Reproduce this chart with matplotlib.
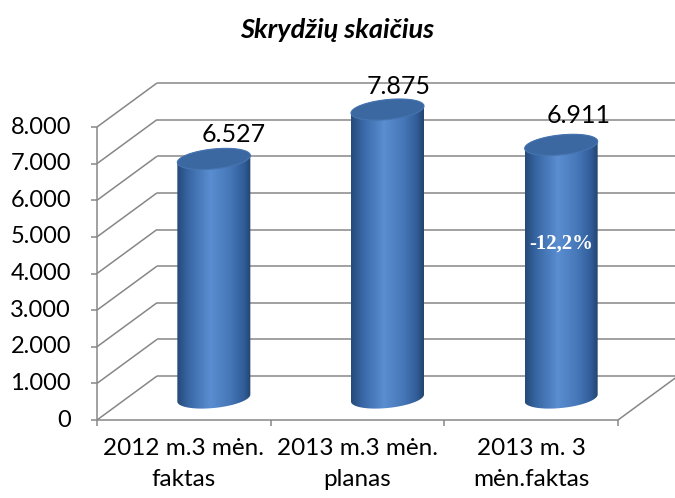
import numpy as np
import matplotlib
matplotlib.use("Agg")
import matplotlib.pyplot as plt
from matplotlib.patches import Polygon
from matplotlib.colors import LinearSegmentedColormap

# ---------------- data ----------------
categories = ["2012 m.3 mėn.\nfaktas", "2013 m.3 mėn.\nplanas", "2013 m. 3\nmėn.faktas"]
values = [6527, 7875, 6911]
value_labels = ["6.527", "7.875", "6.911"]
y_ticks = [0, 1000, 2000, 3000, 4000, 5000, 6000, 7000, 8000]
y_tick_labels = ["0", "1.000", "2.000", "3.000", "4.000", "5.000", "6.000", "7.000", "8.000"]
title = "Skrydžių skaičius"
change_note = "-12,2%"
change_note_bar = 2

# ---------------- layout (pixels) ----------------
W, H = 675, 498
X0, X3 = 97, 618          # front floor edge
Y0, YTOP = 420, 127       # front axis 0 and 8000
DEPTH_PX = (60, 44)       # back-wall offset
BAR_W_PX = 73
ELL_B_PX = 10
TILT_PX = 3.5
CAT_BASELINES_PX = [-35, -66]
label_offsets_px = [(20, 3), (11, 2), (17, 8)]

fig = plt.figure(figsize=(W / 100, H / 100), dpi=100)
ax = fig.add_axes([0, 0, 1, 1])
ax.axis("off")

n = len(categories)
ppu = (X3 - X0) / n
ppv = (Y0 - YTOP) / y_ticks[-1]
xlim = (-X0 / ppu, (W - X0) / ppu)
ylim = (-(H - Y0) / ppv, Y0 / ppv)
DX, DY = DEPTH_PX[0] / ppu, DEPTH_PX[1] / ppv

grid_kw = dict(color="#878787", lw=1.1, solid_capstyle="butt", zorder=1)

# walls / gridlines
for v in y_ticks:
    ax.plot([0, DX], [v, v + DY], **grid_kw)
    ax.plot([DX, n + DX], [v + DY, v + DY], **grid_kw)
# floor
ax.plot([0, n], [0, 0], **grid_kw)
ax.plot([n, n + DX], [0, DY], **grid_kw)
# front value axis
ax.plot([0, 0], [0, y_ticks[-1]], **grid_kw)
for v, lab in zip(y_ticks, y_tick_labels):
    ax.plot([-6 / ppu, 0], [v, v], **grid_kw)
    ax.annotate(lab, (0, v), xytext=(-26, 0), textcoords="offset pixels",
                ha="right", va="center", fontsize=17, family="Lato", color="black")
for i in range(n + 1):
    ax.plot([i, i], [0, -6 / ppv], **grid_kw)
for i, cat in enumerate(categories):
    for line, off in zip(cat.split("\n"), CAT_BASELINES_PX):
        ax.annotate(line, (i + 0.5, 0), xytext=(0, off), textcoords="offset pixels",
                    ha="center", va="baseline", fontsize=17.5,
                    family="Lato", color="black")

# cylinders
cmap = LinearSegmentedColormap.from_list(
    "cyl", [(0.0, "#244A78"), (0.15, "#3766A3"), (0.45, "#5A8ED1"),
            (0.72, "#4677B8"), (0.9, "#325E9A"), (1.0, "#22456F")])
a = BAR_W_PX / 2 / ppu
b = ELL_B_PX / ppv
tilt = TILT_PX / ppv
grad = np.linspace(0, 1, 256)[None, :].repeat(2, axis=0)

for i, v in enumerate(values):
    cx = i + 0.5 + DX / 2
    yb = DY / 2
    yt = v + DY / 2
    t_up = np.linspace(0, np.pi, 80)
    t_dn = np.linspace(np.pi, 2 * np.pi, 80)
    top_arc = np.column_stack([cx + a * np.cos(t_up), yt + b * np.sin(t_up) + tilt * np.cos(t_up)])
    bot_arc = np.column_stack([cx + a * np.cos(t_dn), yb + b * np.sin(t_dn) + tilt * np.cos(t_dn)])
    outline = np.vstack([top_arc, bot_arc])
    body = Polygon(outline, closed=True, facecolor="none", edgecolor="none",
                   transform=ax.transData, zorder=2)
    ax.add_patch(body)
    im = ax.imshow(grad, cmap=cmap, aspect="auto", interpolation="bilinear",
                   extent=[cx - a, cx + a, yb - b - tilt, yt + b + tilt],
                   origin="lower", zorder=2)
    im.set_clip_path(body)
    t = np.linspace(0, 2 * np.pi, 160)
    top = np.column_stack([cx + a * np.cos(t), yt + b * np.sin(t) + tilt * np.cos(t)])
    ax.add_patch(Polygon(top, closed=True, facecolor="#3C68A1",
                         edgecolor="#4675B1", lw=0.8, zorder=3))
    ox, oy = label_offsets_px[i]
    ax.annotate(value_labels[i], (cx, yt + b), xytext=(ox, oy),
                textcoords="offset pixels", ha="center", va="bottom",
                fontsize=18, family="Lato", color="black", zorder=5)
    if i == change_note_bar:
        ax.text(cx, yb + v * 0.61, change_note, ha="center", va="center",
                fontsize=15, family="Liberation Serif", fontweight="bold",
                color="white", zorder=5)

ax.set_xlim(*xlim)
ax.set_ylim(*ylim)

fig.text(337 / W, 1 - 30 / H, title, ha="center", va="center", fontsize=19.5,
         family="Lato", fontweight="bold", style="italic")

fig.savefig("out.png", dpi=100)
